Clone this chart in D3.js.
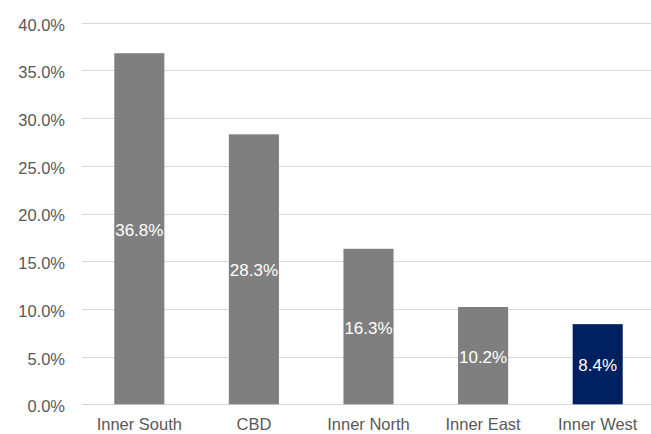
<!DOCTYPE html>
<html><head><meta charset="utf-8">
<script src="https://cdn.jsdelivr.net/npm/d3@7"></script>
<style>body{margin:0;background:#fff}svg{display:block}</style>
</head><body>
<svg id="c" width="651" height="434"></svg>
<script>
const categories = ["Inner South","CBD","Inner North","Inner East","Inner West"];
const values = [36.8, 28.3, 16.3, 10.2, 8.4];
const barColors = ["#7f7f7f","#7f7f7f","#7f7f7f","#7f7f7f","#002060"];
const yTicks = [0,5,10,15,20,25,30,35,40];

const svg = d3.select("#c");
const font = "'Liberation Sans', Arial, Helvetica, sans-serif";
const x = d3.scaleBand().domain(categories).range([82, 655]).paddingInner(0.563).paddingOuter(0.2815);
const y = d3.scaleLinear().domain([0, 40]).range([404.3, 22.7]);

const grid = svg.append("g");
grid.selectAll("line").data(yTicks).join("line")
  .attr("x1", 82).attr("x2", 651)
  .attr("y1", d => Math.round(y(d)) + 0.5).attr("y2", d => Math.round(y(d)) + 0.5)
  .attr("stroke", "#d9d9d9").attr("stroke-width", 1);

const yAxis = d3.axisLeft(y).tickValues(yTicks).tickFormat(d => d.toFixed(1) + "%").tickSize(0).tickPadding(0);
const ya = svg.append("g").attr("transform", "translate(65,0)").call(yAxis);
ya.select(".domain").remove();
ya.selectAll("text").attr("font-family", font).attr("font-size", 16.5).attr("fill", "#595959").attr("dy", "0.45em");

svg.append("g").selectAll("rect").data(values).join("rect")
  .attr("x", (d, i) => x(categories[i]))
  .attr("width", x.bandwidth())
  .attr("y", d => y(d))
  .attr("height", d => y(0) - y(d))
  .attr("fill", (d, i) => barColors[i]);

svg.append("g").selectAll("text").data(values).join("text")
  .attr("x", (d, i) => x(categories[i]) + x.bandwidth() / 2)
  .attr("y", d => (y(d) + y(0)) / 2)
  .attr("dy", "0.42em")
  .attr("text-anchor", "middle")
  .attr("font-family", font).attr("font-size", 17).attr("fill", "#ffffff")
  .text(d => d.toFixed(1) + "%");

const xAxis = d3.axisBottom(x).tickSize(0).tickPadding(0);
const xa = svg.append("g").attr("transform", "translate(0,404.3)").call(xAxis);
xa.select(".domain").remove();
xa.selectAll("text").attr("font-family", font).attr("font-size", 16.5).attr("fill", "#595959").attr("dy", null).attr("y", 26);
</script>
</body></html>
